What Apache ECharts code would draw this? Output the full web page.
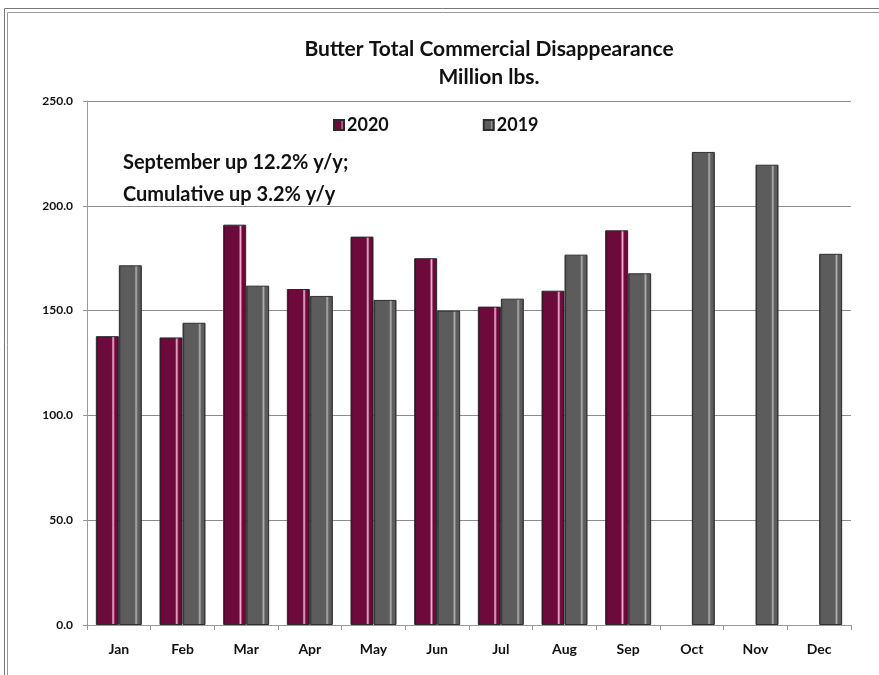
<!DOCTYPE html>
<html>
<head>
<meta charset="utf-8">
<script src="https://cdn.jsdelivr.net/npm/echarts@6.0.0/dist/echarts.min.js"></script>
<style>
  html, body { margin: 0; padding: 0; background: #fff; }
  #chart { width: 879px; height: 675px; }
</style>
</head>
<body>
<div id="chart"></div>
<script>
// data
const months = ['Jan', 'Feb', 'Mar', 'Apr', 'May', 'Jun', 'Jul', 'Aug', 'Sep', 'Oct', 'Nov', 'Dec'];
const values2020 = [137.8, 137.2, 191.0, 160.3, 185.3, 175.0, 151.9, 159.5, 188.3, null, null, null];
const values2019 = [171.6, 144.2, 161.9, 157.0, 155.1, 150.0, 155.7, 176.7, 167.8, 225.7, 219.6, 177.1];
const yTicks = [0, 50, 100, 150, 200, 250];

const FONT = 'Lato, "Open Sans", sans-serif';

// bevel-like look: dark edges and a light stripe near the right side
function bevel(dark, base, light) {
  return new echarts.graphic.LinearGradient(0, 0, 1, 0, [
    { offset: 0, color: dark },
    { offset: 0.1, color: base },
    { offset: 0.68, color: base },
    { offset: 0.75, color: light },
    { offset: 0.83, color: base },
    { offset: 0.92, color: base },
    { offset: 1, color: dark }
  ]);
}

const chart = echarts.init(document.getElementById('chart'));

const option = {
  backgroundColor: '#fff',
  animation: false,
  title: {
    text: 'Butter Total Commercial Disappearance\nMillion lbs.',
    left: 484,
    top: 30,
    textAlign: 'center',
    textStyle: {
      fontFamily: FONT,
      fontSize: 21,
      fontWeight: 'bold',
      color: '#111',
      lineHeight: 28
    }
  },
  legend: {
    left: 328,
    top: 111,
    itemWidth: 10,
    itemHeight: 10,
    itemGap: 94,
    icon: 'rect',
    textStyle: { fontFamily: FONT, fontSize: 18, fontWeight: 'bold', color: '#111', padding: [0, 0, 0, -2] },
    data: ['2020', '2019']
  },
  grid: {
    left: 87,
    right: 28,
    top: 101,
    bottom: 50,
    containLabel: false
  },
  xAxis: {
    type: 'category',
    data: months,
    axisLine: { lineStyle: { color: '#999', width: 1 } },
    axisTick: { show: true, length: 5, lineStyle: { color: '#999' }, alignWithLabel: false },
    axisLabel: { fontFamily: FONT, fontSize: 14, fontWeight: 'bold', color: '#111', margin: 17 }
  },
  yAxis: {
    type: 'value',
    min: yTicks[0],
    max: yTicks[yTicks.length - 1],
    interval: 50,
    axisLine: { show: true, lineStyle: { color: '#999', width: 1 } },
    axisTick: { show: true, length: 4, lineStyle: { color: '#999' } },
    splitLine: { lineStyle: { color: '#8c8c8c', width: 1 } },
    axisLabel: {
      fontFamily: FONT, fontSize: 12, fontWeight: 'bold', color: '#111', margin: 14,
      formatter: v => v.toFixed(1)
    }
  },
  series: [
    {
      name: '2020',
      type: 'bar',
      data: values2020,
      barWidth: 23,
      barGap: '0%',
      itemStyle: {
        color: bevel('#2e0318', '#6b0a3b', '#f4b8d6'),
        borderColor: '#2a2a2a',
        borderWidth: 1
      }
    },
    {
      name: '2019',
      type: 'bar',
      data: values2019,
      barWidth: 23,
      barGap: '0%',
      itemStyle: {
        color: bevel('#2e2e2e', '#5c5c5c', '#b0b0b0'),
        borderColor: '#2e2e2e',
        borderWidth: 1
      }
    }
  ],
  graphic: [
    {
      type: 'rect',
      shape: { x: 4.5, y: 8.5, width: 900, height: 700 },
      style: { fill: 'none', stroke: '#777', lineWidth: 1 },
      silent: true
    },
    {
      type: 'rect',
      shape: { x: 7.5, y: 12.5, width: 900, height: 700 },
      style: { fill: 'none', stroke: '#999', lineWidth: 1 },
      silent: true
    },
    {
      type: 'text',
      left: 123,
      top: 147,
      style: {
        text: 'September up 12.2% y/y;\nCumulative up 3.2% y/y',
        fontFamily: FONT,
        fontSize: 20,
        fontWeight: 'bold',
        fill: '#111',
        lineHeight: 32
      }
    }
  ]
};

chart.setOption(option);
</script>
</body>
</html>
